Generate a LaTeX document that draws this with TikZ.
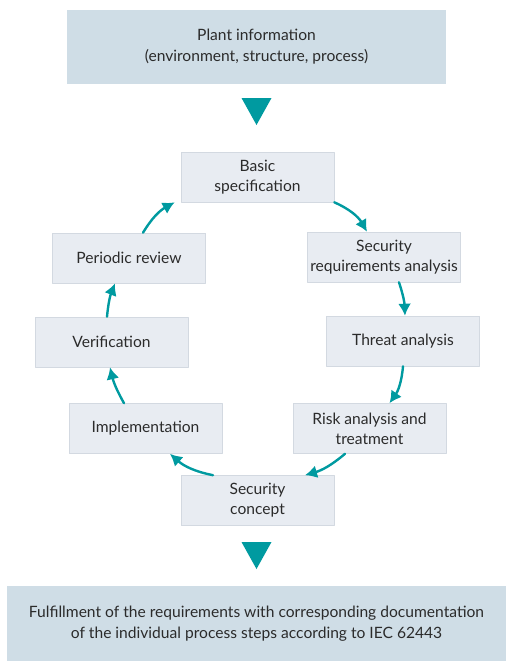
\documentclass[tikz,border=0pt]{standalone}
\usepackage{fontspec}
\setmainfont{Lato}
\usetikzlibrary{arrows.meta}

\definecolor{infofill}{HTML}{CFDDE6}
\definecolor{stepfill}{HTML}{E8ECF2}
\definecolor{stepline}{HTML}{D3D9E1}
\definecolor{cycleteal}{HTML}{009AA0}
\definecolor{textgray}{HTML}{2B2B2B}

\tikzset{
  stepbox/.style={draw=stepline,line width=0.6pt,fill=stepfill,minimum width=153pt,
    minimum height=50pt,inner sep=0pt,align=center,text=textgray,
    font=\fontsize{15.6}{20}\selectfont},
  infobox/.style={fill=infofill,inner sep=0pt,align=center,text=textgray,
    font=\fontsize{15.6}{21}\selectfont},
  cyclearrow/.style={draw=cycleteal,line width=2.4pt,-{Latex[length=12pt,width=13pt]}},
}

\begin{document}
\begin{tikzpicture}[x=1pt,y=-1pt,line cap=round,line join=round]
  \useasboundingbox (0,0) rectangle (516,672);

  \node[infobox,minimum width=379pt,minimum height=74pt] (plant) at (256.5,47)
    {Plant information\\(environment, structure, process)};
  \node[infobox,minimum width=499pt,minimum height=75pt] (fulfil) at (256.5,623.5)
    {Fulfillment of the requirements with corresponding documentation\\of the individual process steps according to IEC 62443};

  \node[stepbox] (basic)    at (257.5,177)   {Basic\\specification};
  \node[stepbox] (secreq)   at (384,257)     {Security\\requirements analysis};
  \node[stepbox] (threat)   at (403,341)     {Threat analysis};
  \node[stepbox] (risk)     at (369.5,428.5) {Risk analysis and\\treatment};
  \node[stepbox] (concept)  at (257.5,500.5) {Security\\concept};
  \node[stepbox] (impl)     at (145.5,428.5) {Implementation};
  \node[stepbox] (verif)    at (111.5,342)   {Verification};
  \node[stepbox] (periodic) at (129,258)     {Periodic review};

  % big triangles between the stages
  \foreach \y in {98,542} {
    \fill[cycleteal] (241.5,\y) -- (271.5,\y) -- (256.5,\y+27) -- cycle;
  }

  % the cycle
  \draw[cyclearrow] (basic.south east) to[bend left=18] ([xshift=-17pt]secreq.north);
  \draw[cyclearrow] ([xshift=15pt]secreq.south) to[bend left=8] ([xshift=2pt]threat.north);
  \draw[cyclearrow] (threat.south) to[bend left=15] ([xshift=20pt]risk.north);
  \draw[cyclearrow] ([xshift=-24.5pt]risk.south) to[bend left=12] ([xshift=47.5pt]concept.north);
  \draw[cyclearrow] ([xshift=-44.5pt]concept.north) to[bend left=15] ([xshift=24.5pt]impl.south);
  \draw[cyclearrow] ([xshift=-21.5pt]impl.north) to[bend left=8] ([xshift=-1.5pt]verif.south);
  \draw[cyclearrow] ([xshift=-4.5pt]verif.north) to[bend left=8] ([xshift=-14pt]periodic.south);
  \draw[cyclearrow] ([xshift=14pt]periodic.north) to[bend left=15] ([xshift=-6pt]basic.south west);
\end{tikzpicture}
\end{document}
